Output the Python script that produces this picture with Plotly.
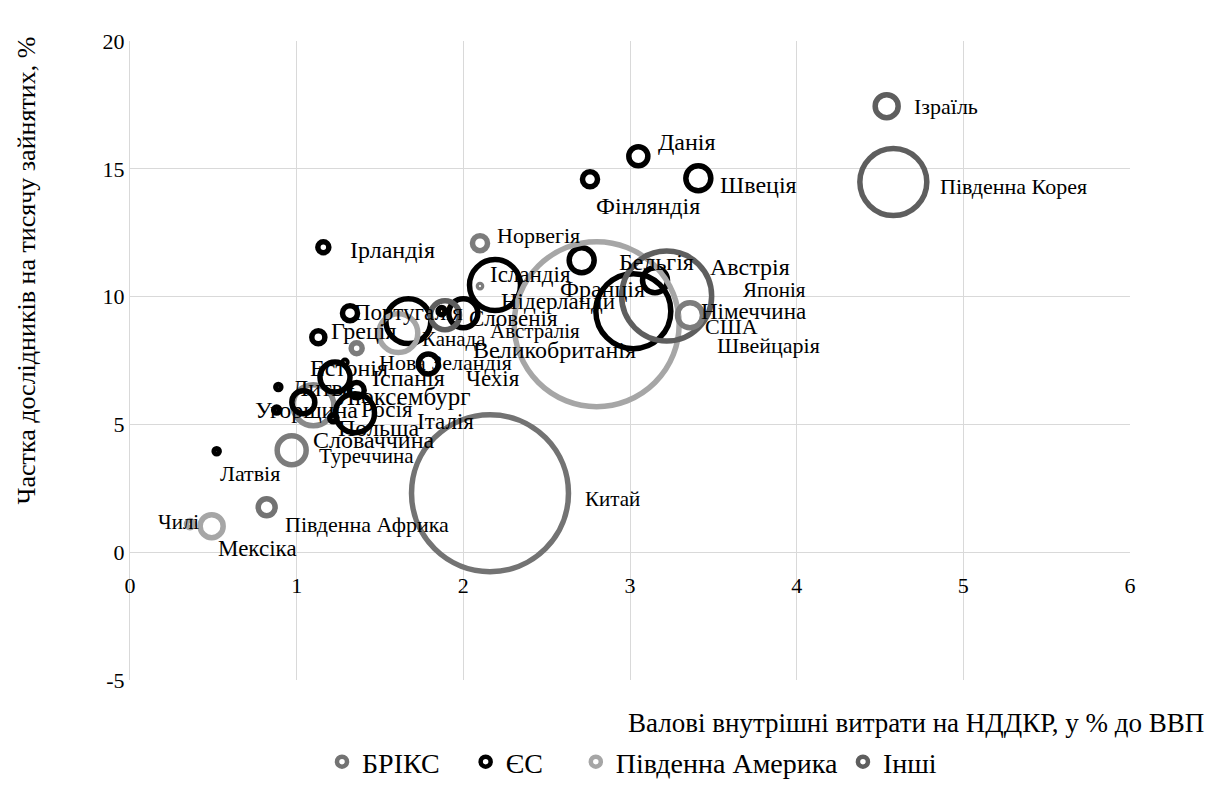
import plotly.graph_objects as go

# ---------------- data ----------------
# x: gross domestic expenditure on R&D, % of GDP
# y: researchers per thousand employed
# v: bubble size (GERD volume, bn USD PPP)
brics_names = ["Китай", "Росія", "Південна Африка"]
brics_x = [2.16, 1.10, 0.82]
brics_y = [2.31, 5.75, 1.76]
brics_v = [489, 33.3, 5.7]

eu_names = ["Німеччина", "Франція", "Великобританія", "Італія", "Іспанія", "Нідерланди",
            "Швеція", "Бельгія", "Австрія", "Польща", "Чехія", "Данія",
            "Фінляндія", "Португалія", "Люксембург", "Греція", "Ірландія",
            "Словенія", "Словаччина", "Угорщина", "Литва", "Латвія", "Естонія"]
eu_x = [3.02, 2.19, 1.67, 1.35, 1.23, 2.00,
        3.41, 2.71, 3.15, 1.04, 1.79, 3.05,
        2.76, 1.32, 1.36, 1.13, 1.16,
        1.87, 1.22, 0.88, 0.89, 0.52, 1.29]
eu_y = [9.43, 10.45, 9.04, 5.44, 6.85, 9.35,
        14.63, 11.42, 10.64, 5.87, 7.36, 15.49,
        14.59, 9.35, 6.34, 8.41, 11.93,
        9.43, 5.24, 5.56, 6.46, 3.95, 7.43]
eu_v = [111.6, 51.6, 40.0, 30.2, 17.9, 16.7,
        12.4, 12.4, 12.4, 10.5, 7.9, 7.2,
        4.5, 4.5, 4.5, 3.4, 2.4,
        1.0, 1.0, 0.7, 0.5, 0.5, 0.3]

am_names = ["США", "Канада", "Мексіка", "Чилі"]
am_x = [2.80, 1.61, 0.49, 0.36]
am_y = [8.92, 8.57, 1.02, 1.10]
am_v = [540, 30.0, 10.5, 1.0]

oth_names = ["Японія", "Південна Корея", "Австралія", "Туреччина", "Швейцарія",
             "Ізраїль", "Норвегія", "Нова Зеландія", "Ісландія"]
oth_x = [3.22, 4.58, 1.89, 0.97, 3.36, 4.54, 2.10, 1.36, 2.10]
oth_y = [10.02, 14.48, 9.27, 3.99, 9.27, 17.45, 12.09, 7.98, 10.41]
oth_v = [160.7, 89.0, 16.7, 16.7, 12.4, 10.5, 4.5, 2.4, 0.2]

series_names = ["БРІКС", "ЄС", "Південна Америка", "Інші"]

x_ticks = [0, 1, 2, 3, 4, 5, 6]
y_ticks = [-5, 0, 5, 10, 15, 20]

x_title = "Валові внутрішні витрати на НДДКР, у % до ВВП"
y_title = "Частка дослідників на тисячу зайнятих, %"

# ---------------- style ----------------
FONT = "Liberation Serif, Times New Roman, serif"
colors = ["#737373", "#000000", "#a6a6a6", "#5e5e5e"]
MIDGRAY = "#7c7c7c"
# rings that render lighter in the reference
shade_override = {"Туреччина": MIDGRAY, "Норвегія": MIDGRAY, "Швейцарія": MIDGRAY,
                  "Нова Зеландія": MIDGRAY, "Ісландія": MIDGRAY, "Росія": "#8a8a8a"}
LW = 5.5
SIZEREF = 0.0397
NBSP = "\u00a0"
legend_pad = [3, 4, 0, 0]  # extra spacing after each legend entry

# label placement: name -> (dx px, dy px downward, font size)
label_style = {
    "Ізраїль": (25, 0, 22), "Данія": (18, -14, 24), "Швеція": (20, 7, 24),
    "Фінляндія": (4, 27, 24), "Південна Корея": (45, 4, 22), "Норвегія": (15, -8, 22),
    "Ірландія": (25, 3, 24), "Ісландія": (8, -12, 23), "Бельгія": (35, 2, 24),
    "Австрія": (53, -13, 24), "Франція": (63, 4, 24), "Японія": (74, -6, 21),
    "Нідерланди": (36, -12, 23), "Словенія": (25, 7, 23), "Португалія": (2, -1, 23),
    "Греція": (11, -6, 24), "Австралія": (43, 16, 21), "Канада": (22, 6, 21),
    "Великобританія": (63, 29, 24), "Німеччина": (66, 0, 23), "США": (106, 2, 22),
    "Швейцарія": (25, 30, 22), "Нова Зеландія": (20, 14, 22), "Естонія": (-37, 6, 24),
    "Іспанія": (35, 1, 24), "Чехія": (36, 14, 23), "Литва": (12, 1, 24),
    "Люксембург": (-21, 6, 25), "Угорщина": (-24, 0, 24), "Росія": (46, 4, 23),
    "Італія": (60, 8, 23), "Польща": (33, 26, 24), "Словаччина": (-22, 22, 24),
    "Туреччина": (25, 6, 21), "Латвія": (1, 22, 22), "Китай": (93, 6, 21),
    "Південна Африка": (16, 17, 22), "Чилі": (-34, -2, 21), "Мексіка": (4, 22, 23),
}

fig = go.Figure()
groups = [
    (brics_names, brics_x, brics_y, brics_v),
    (eu_names, eu_x, eu_y, eu_v),
    (am_names, am_x, am_y, am_v),
    (oth_names, oth_x, oth_y, oth_v),
]
annotations = []
for (names, xs, ys, vs), sname, col in zip(groups, series_names, colors):
    line_cols = [shade_override.get(n, col) for n in names]
    fig.add_trace(go.Scatter(
        x=xs, y=ys, mode="markers", name=sname, text=names, showlegend=False,
        marker=dict(size=vs, sizemode="area", sizeref=SIZEREF, sizemin=0, opacity=1,
                    color="rgba(0,0,0,0)", line=dict(color=line_cols, width=LW)),
        hovertemplate="%{text}: %{x}, %{y}<extra></extra>",
    ))
    for n, xv, yv in zip(names, xs, ys):
        dx, dy, fs = label_style[n]
        annotations.append(dict(
            x=xv, y=yv, xref="x", yref="y", text=n, showarrow=False,
            xanchor="left", yanchor="middle", xshift=dx, yshift=-dy,
            font=dict(family=FONT, size=fs, color="black"),
        ))

# legend entries (ring symbols of legend size)
for sname, col, pad in zip(series_names, colors, legend_pad):
    fig.add_trace(go.Scatter(
        x=[None], y=[None], mode="markers", name=sname + NBSP * pad, showlegend=True,
        marker=dict(size=10, color="rgba(0,0,0,0)", line=dict(color=col, width=4.5)),
    ))

annotations.append(dict(
    x=1.076, y=-0.067, xref="paper", yref="paper", text=x_title, showarrow=False,
    xanchor="right", yanchor="middle", font=dict(family=FONT, size=27, color="black")))
annotations.append(dict(
    x=-0.104, y=0.641, xref="paper", yref="paper", text=y_title, showarrow=False,
    textangle=-90, xanchor="center", yanchor="middle",
    font=dict(family=FONT, size=26, color="black")))

grid = "#d9d9d9"
tickfont = dict(family=FONT, size=22, color="black")
fig.update_layout(
    width=1200, height=771,
    margin=dict(l=122, r=78, t=33, b=99, autoexpand=False),
    paper_bgcolor="white", plot_bgcolor="white",
    font=dict(family=FONT, size=22, color="black"),
    xaxis=dict(range=[0, 6], tickvals=x_ticks, ticktext=[str(t) for t in x_ticks],
               showgrid=True, gridcolor=grid, gridwidth=1,
               zeroline=False, showline=False, anchor="free", position=0.2,
               ticks="", ticklabelstandoff=18, tickfont=tickfont),
    yaxis=dict(range=[-5, 20], tickvals=y_ticks, ticktext=[str(t) for t in y_ticks],
               showgrid=True, gridcolor=grid, gridwidth=1,
               zeroline=True, zerolinecolor=grid, zerolinewidth=1,
               showline=True, linecolor=grid, ticks="", tickfont=tickfont),
    showlegend=True,
    legend=dict(orientation="h", x=0.192, xanchor="left", y=-0.1283, yanchor="middle",
                font=dict(family=FONT, size=28, color="black"),
                bgcolor="rgba(0,0,0,0)", tracegroupgap=0),
    annotations=annotations,
)

fig.write_html("out.html")
